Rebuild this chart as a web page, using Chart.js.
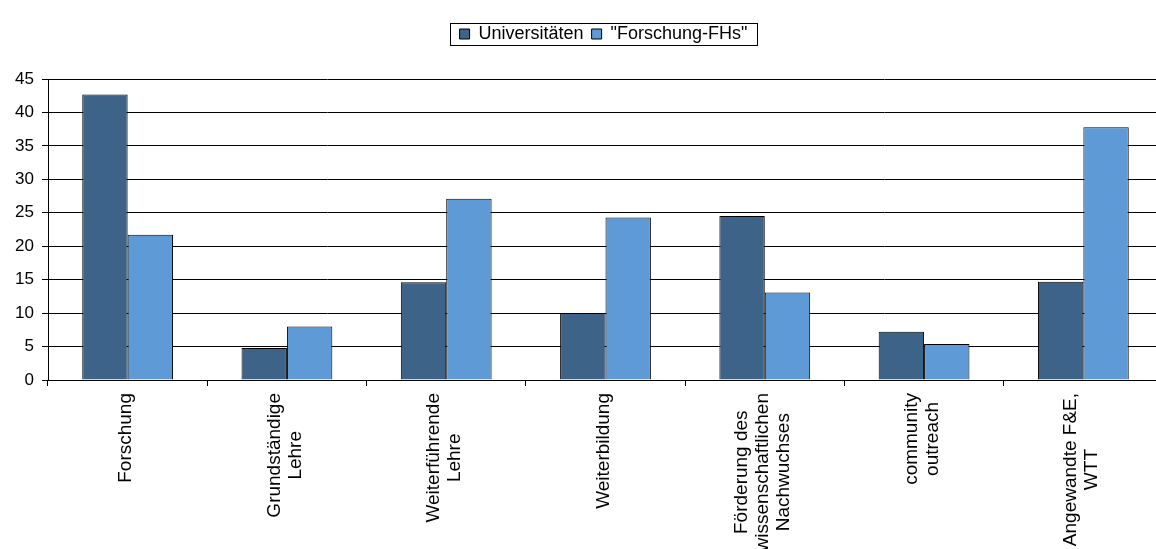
<!DOCTYPE html>
<html>
<head>
<meta charset="utf-8">
<script src="https://cdn.jsdelivr.net/npm/chart.js@4.4.0/dist/chart.umd.min.js"></script>
<style>
  html, body { margin: 0; padding: 0; background: #fff; overflow: hidden; }
  #wrap { width: 1172px; height: 549px; position: relative; }
</style>
</head>
<body>
<div id="wrap"><canvas id="chart"></canvas></div>
<script>
(function () {
    'use strict';
    var categories = [
        'Forschung',
        ['Grundständige', 'Lehre'],
        ['Weiterführende', 'Lehre'],
        'Weiterbildung',
        ['Förderung des', 'wissenschaftlichen', 'Nachwuchses'],
        ['community', 'outreach'],
        ['Angewandte F&E,', 'WTT']
    ];
    var universitaeten = [42.7, 4.8, 14.6, 10.0, 24.5, 7.2, 14.7];
    var forschungFHs = [21.7, 8.0, 27.1, 24.3, 13.1, 5.4, 37.8];
    var seriesNames = ['Universitäten', '"Forschung-FHs"'];

    var FONT = '"Liberation Sans", Arial, sans-serif';
    Chart.defaults.font.family = FONT;
    Chart.defaults.font.size = 16;
    Chart.defaults.color = '#000';

    // legend: a bit right of centre, extra gap below it, and a frame
    var legendFrame = {
        id: 'legendFrame',
        beforeInit: function (chart) {
            var lg = chart.legend;
            if (!lg) { return; }
            var fit = lg.fit;
            lg.fit = function () {
                fit.apply(this, arguments);
                this.height += 26;
            };
        },
        afterLayout: function (chart) {
            var lg = chart.legend;
            if (!lg) { return; }
            lg.left += 22;
            lg.right += 22;
        },
        afterDraw: function (chart) {
            var lg = chart.legend;
            if (!lg || !lg.legendHitBoxes || !lg.legendHitBoxes.length) { return; }
            var boxes = lg.legendHitBoxes;
            var x0 = boxes[0].left - 10;
            var last = boxes[boxes.length - 1];
            var x1 = last.left + last.width + 9;
            var y0 = boxes[0].top - 2;
            var y1 = boxes[0].top + boxes[0].height + 2;
            var c = chart.ctx;
            c.save();
            c.strokeStyle = '#000';
            c.lineWidth = 1;
            c.strokeRect(Math.round(x0) + 0.5, Math.round(y0) + 0.5, Math.round(x1 - x0), Math.round(y1 - y0));
            c.restore();
        }
    };

    // rotated category labels, lines centred on each other (as in the original)
    var xLabels = {
        id: 'xLabels',
        afterDraw: function (chart) {
            var sc = chart.scales.x;
            var c = chart.ctx;
            c.save();
            c.font = '19px ' + FONT;
            c.fillStyle = '#000';
            c.textAlign = 'center';
            c.textBaseline = 'middle';
            categories.forEach(function (lab, i) {
                var lines = Array.isArray(lab) ? lab : [lab];
                var maxW = 0;
                lines.forEach(function (l) { maxW = Math.max(maxW, c.measureText(l).width); });
                var x = sc.getPixelForTick(i) - 2;
                var cy = sc.top + 13 + maxW / 2;
                c.save();
                c.translate(x, cy);
                c.rotate(-Math.PI / 2);
                lines.forEach(function (l, j) {
                    c.fillText(l, 0, (j - (lines.length - 1) / 2) * 21);
                });
                c.restore();
            });
            c.restore();
        }
    };

    new Chart(document.getElementById('chart'), {
        type: 'bar',
        data: {
            labels: categories,
            datasets: [
                { label: seriesNames[0], data: universitaeten, backgroundColor: '#3d6389', borderColor: '#000', borderWidth: 1 },
                { label: seriesNames[1], data: forschungFHs, backgroundColor: '#5d9ad6', borderColor: '#000', borderWidth: 1 }
            ]
        },
        options: {
            responsive: true,
            maintainAspectRatio: false,
            animation: false,
            datasets: { bar: { categoryPercentage: 0.57, barPercentage: 1 } },
            layout: { padding: { top: 17, right: 9, left: 0, bottom: 0 } },
            plugins: {
                tooltip: { enabled: false },
                legend: {
                    position: 'top',
                    labels: { boxWidth: 10, boxHeight: 10, padding: 8, color: '#000', font: { size: 18 } }
                }
            },
            scales: {
                x: {
                    grid: { offset: true, drawOnChartArea: false, color: '#000', tickLength: 6 },
                    border: { color: '#000' },
                    ticks: { display: false, autoSkip: false },
                    afterFit: function (s) { s.height = 169; }
                },
                y: {
                    min: 0,
                    max: 45,
                    ticks: { stepSize: 5, padding: 8, font: { size: 17 } },
                    grid: { color: '#000', tickLength: 6 },
                    border: { color: '#000' },
                    afterFit: function (s) { s.width = 48; }
                }
            }
        },
        plugins: [legendFrame, xLabels]
    });
})();
</script>
</body>
</html>
